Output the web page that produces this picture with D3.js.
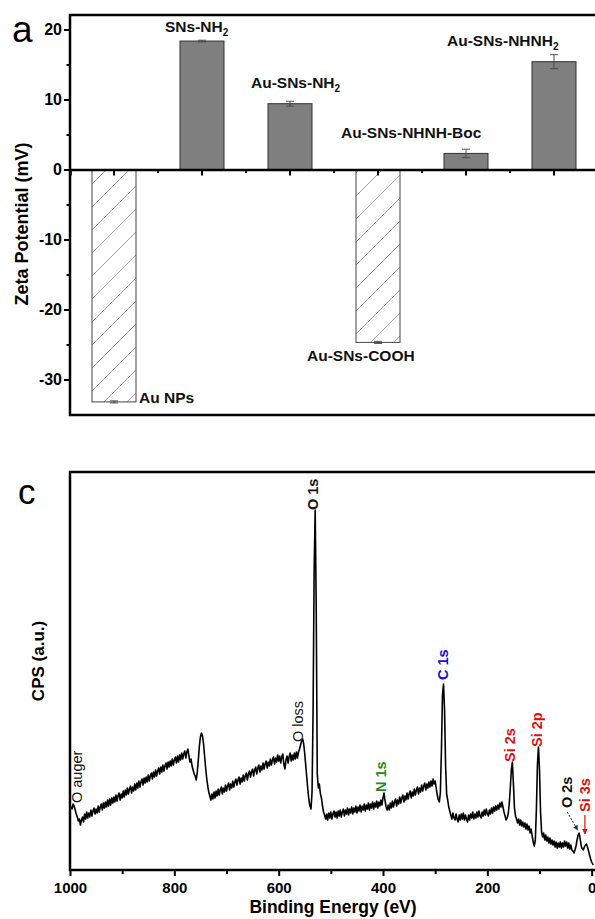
<!DOCTYPE html>
<html>
<head>
<meta charset="utf-8">
<script src="https://cdn.jsdelivr.net/npm/d3@7"></script>
<style>
  body { margin: 0; background: #fff; }
  svg { display: block; font-family: "Liberation Sans", Arial, sans-serif; }
</style>
</head>
<body>
<svg id="fig" width="595" height="919"></svg>
<script>
// ---- panel a: zeta potential ----
var samples = ['Au NPs', 'SNs-NH2', 'Au-SNs-NH2', 'Au-SNs-COOH', 'Au-SNs-NHNH-Boc', 'Au-SNs-NHNH2'];
var zeta = [-33.2, 18.35, 9.4, -24.7, 2.3, 15.4];
var zetaErr = [0.15, 0.12, 0.35, 0.15, 0.6, 1.0];
var zetaTicks = [20, 10, 0, -10, -20, -30];
var zetaMinor = [15, 5, -5, -15, -25];

// ---- panel c: XPS survey ----
var energyTicks = [1000, 800, 600, 400, 200, 0];
var energyMinor = [900, 700, 500, 300, 100];
// [binding energy (eV), counts (a.u.)]
var spectrum = [
  [1000, 60], [998, 63], [996, 61], [994, 66], [992, 64], [990, 60], [988, 56], [986, 53], [984, 49],
  [982, 51], [980, 45], [978, 50], [976, 53], [974, 48], [972, 56], [970, 51], [968, 58], [966, 52],
  [964, 57], [962, 53], [960, 60], [958, 54], [956, 59], [954, 62], [952, 56], [950, 61], [948, 57],
  [946, 64], [944, 58], [942, 63], [940, 66], [938, 60], [936, 67], [934, 62], [932, 68], [930, 63],
  [928, 70], [926, 64], [924, 71], [922, 65], [920, 72], [918, 67], [916, 73], [914, 68], [912, 75],
  [910, 69], [908, 74], [906, 77], [904, 70], [902, 76], [900, 72], [898, 79], [896, 73], [894, 80],
  [892, 75], [890, 82], [888, 76], [886, 81], [884, 84], [882, 77], [880, 83], [878, 79], [876, 86],
  [874, 80], [872, 87], [870, 82], [868, 89], [866, 83], [864, 88], [862, 91], [860, 85], [858, 92],
  [856, 87], [854, 93], [852, 88], [850, 95], [848, 89], [846, 94], [844, 97], [842, 91], [840, 98],
  [838, 93], [836, 100], [834, 94], [832, 99], [830, 102], [828, 96], [826, 103], [824, 98], [822, 105],
  [820, 99], [818, 104], [816, 107], [814, 101], [812, 108], [810, 103], [808, 109], [806, 104],
  [804, 111], [802, 105], [800, 110], [798, 113], [796, 107], [794, 114], [792, 108], [790, 115],
  [788, 110], [786, 117], [784, 111], [782, 116], [780, 119], [778, 112], [776, 118], [774, 121],
  [772, 114], [770, 108], [768, 111], [766, 104], [764, 100], [762, 96], [760, 94], [758, 90],
  [756, 98], [754, 110], [752, 124], [750, 133], [748, 137], [746, 134], [744, 126], [742, 114],
  [740, 102], [738, 92], [736, 84], [734, 78], [732, 74], [730, 70], [728, 76], [726, 71], [724, 78],
  [722, 72], [720, 79], [718, 74], [716, 81], [714, 75], [712, 80], [710, 83], [708, 76], [706, 82],
  [704, 78], [702, 85], [700, 79], [698, 84], [696, 87], [694, 80], [692, 86], [690, 82], [688, 89],
  [686, 83], [684, 88], [682, 91], [680, 85], [678, 90], [676, 93], [674, 86], [672, 92], [670, 88],
  [668, 95], [666, 89], [664, 94], [662, 97], [660, 90], [658, 96], [656, 99], [654, 93], [652, 98],
  [650, 101], [648, 94], [646, 100], [644, 103], [642, 96], [640, 102], [638, 105], [636, 98],
  [634, 104], [632, 100], [630, 107], [628, 101], [626, 106], [624, 109], [622, 102], [620, 108],
  [618, 104], [616, 111], [614, 105], [612, 110], [610, 113], [608, 106], [606, 112], [604, 108],
  [602, 115], [600, 109], [598, 114], [596, 107], [594, 113], [592, 116], [590, 106], [588, 101],
  [586, 110], [584, 114], [582, 107], [580, 113], [578, 117], [576, 109], [574, 115], [572, 110],
  [570, 117], [568, 111], [566, 118], [564, 112], [562, 118], [560, 121], [558, 125], [556, 129],
  [554, 131], [552, 126], [550, 116], [548, 104], [546, 92], [544, 80], [542, 70], [540, 64],
  [538, 61], [536, 78], [534, 160], [532, 300], [530, 360], [528, 262], [526, 96], [524, 82],
  [522, 86], [520, 76], [518, 72], [516, 64], [514, 58], [512, 55], [510, 51], [508, 56], [506, 50],
  [504, 57], [502, 52], [500, 58], [498, 51], [496, 56], [494, 59], [492, 53], [490, 58], [488, 52],
  [486, 59], [484, 54], [482, 60], [480, 53], [478, 58], [476, 61], [474, 54], [472, 60], [470, 56],
  [468, 62], [466, 55], [464, 61], [462, 57], [460, 63], [458, 56], [456, 62], [454, 58], [452, 64],
  [450, 57], [448, 63], [446, 59], [444, 65], [442, 58], [440, 64], [438, 60], [436, 66], [434, 59],
  [432, 65], [430, 61], [428, 67], [426, 60], [424, 66], [422, 62], [420, 68], [418, 61], [416, 67],
  [414, 63], [412, 69], [410, 62], [408, 68], [406, 64], [404, 70], [402, 65], [400, 72], [398, 77],
  [396, 69], [394, 63], [392, 60], [390, 65], [388, 60], [386, 67], [384, 62], [382, 69], [380, 63],
  [378, 68], [376, 71], [374, 64], [372, 70], [370, 66], [368, 73], [366, 67], [364, 72], [362, 75],
  [360, 68], [358, 74], [356, 70], [354, 77], [352, 71], [350, 76], [348, 79], [346, 72], [344, 78],
  [342, 74], [340, 81], [338, 75], [336, 80], [334, 83], [332, 76], [330, 82], [328, 78], [326, 85],
  [324, 79], [322, 84], [320, 87], [318, 80], [316, 86], [314, 82], [312, 88], [310, 83], [308, 89],
  [306, 84], [304, 91], [302, 86], [300, 89], [298, 82], [296, 75], [294, 70], [292, 68], [290, 78],
  [288, 120], [286, 175], [284, 186], [282, 160], [280, 104], [278, 76], [276, 70], [274, 63],
  [272, 59], [270, 55], [268, 51], [266, 57], [264, 52], [262, 50], [260, 56], [258, 51], [256, 48],
  [254, 55], [252, 50], [250, 56], [248, 51], [246, 57], [244, 50], [242, 55], [240, 51], [238, 48],
  [236, 55], [234, 50], [232, 56], [230, 52], [228, 58], [226, 51], [224, 56], [222, 52], [220, 58],
  [218, 53], [216, 59], [214, 54], [212, 52], [210, 58], [208, 54], [206, 60], [204, 55], [202, 61],
  [200, 56], [198, 54], [196, 60], [194, 56], [192, 62], [190, 57], [188, 63], [186, 59], [184, 64],
  [182, 60], [180, 65], [178, 61], [176, 67], [174, 63], [172, 68], [170, 63], [168, 58], [166, 54],
  [164, 50], [162, 52], [160, 56], [158, 66], [156, 82], [154, 100], [152, 108], [150, 86], [148, 62],
  [146, 54], [144, 51], [142, 47], [140, 51], [138, 45], [136, 50], [134, 44], [132, 48], [130, 43],
  [128, 47], [126, 41], [124, 46], [122, 40], [120, 44], [118, 37], [116, 41], [114, 34], [112, 28],
  [110, 24], [108, 30], [106, 60], [104, 105], [102, 123], [100, 100], [98, 58], [96, 38], [94, 33],
  [92, 37], [90, 30], [88, 35], [86, 29], [84, 33], [82, 27], [80, 32], [78, 26], [76, 30], [74, 25],
  [72, 29], [70, 23], [68, 28], [66, 22], [64, 27], [62, 23], [60, 28], [58, 22], [56, 27], [54, 23],
  [52, 29], [50, 24], [48, 28], [46, 22], [44, 27], [42, 21], [40, 25], [38, 20], [36, 19], [34, 17],
  [32, 20], [30, 24], [28, 30], [26, 35], [24, 37], [22, 31], [20, 24], [18, 21], [16, 20], [14, 23],
  [12, 25], [10, 26], [8, 23], [6, 19], [4, 15], [2, 11], [0, 8], [-3, 5]
];
var peakNames = ['O auger', 'O loss', 'O 1s', 'N 1s', 'C 1s', 'Si 2s', 'Si 2p', 'O 2s', 'Si 3s'];
var peakEnergy = [987, 563, 534, 404, 286, 157, 105, 47, 13];
var peakColor = ['#111', '#111', '#111', '#1f8a1f', '#1010e0', '#e01010', '#e01010', '#111', '#e01010'];
var peakBold = [false, false, true, true, true, true, true, true, true];
// label foot level (counts) where each rotated label starts
var peakFoot = [67, 128, 360, 78, 190, 108, 123, 62, 58];

var svg = d3.select('#fig');
var FONT = '"Liberation Sans", Arial, sans-serif';
var plain = d => String(d);

// ================= panel a =================
var a = { left: 70, right: 598, top: 15, bottom: 415 };

var x = d3.scaleBand()
  .domain(samples)
  .range([a.left, a.right])
  .paddingInner(0.5)
  .paddingOuter(0.25);

var y = d3.scaleLinear()
  .domain([-35.07, 22.07])
  .range([a.bottom, a.top]);

var defs = svg.append('defs');
var hs = 23;
defs.append('pattern')
  .attr('id', 'hatch')
  .attr('patternUnits', 'userSpaceOnUse')
  .attr('width', hs).attr('height', hs)
  .append('path')
  .attr('d', `M0,${hs} L${hs},0 M${-hs/4},${hs/4} L${hs/4},${-hs/4} M${3*hs/4},${5*hs/4} L${5*hs/4},${3*hs/4}`)
  .attr('stroke', '#888')
  .attr('stroke-width', 0.8);

var ga = svg.append('g').attr('class', 'panel-a');

ga.selectAll('rect.bar')
  .data(samples)
  .enter().append('rect')
  .attr('class', 'bar')
  .attr('x', d => x(d))
  .attr('width', x.bandwidth())
  .attr('y', (d, i) => y(Math.max(0, zeta[i])))
  .attr('height', (d, i) => Math.abs(y(zeta[i]) - y(0)))
  .attr('fill', (d, i) => zeta[i] < 0 ? 'url(#hatch)' : '#7f7f7f')
  .attr('stroke', (d, i) => zeta[i] < 0 ? '#444' : '#333')
  .attr('stroke-width', 1);

// error bars
var eb = ga.selectAll('g.err')
  .data(samples)
  .enter().append('g')
  .attr('class', 'err')
  .attr('stroke', '#444')
  .attr('stroke-width', 0.9);

eb.append('line')
  .attr('x1', d => x(d) + x.bandwidth() / 2)
  .attr('x2', d => x(d) + x.bandwidth() / 2)
  .attr('y1', (d, i) => y(zeta[i] - zetaErr[i]))
  .attr('y2', (d, i) => y(zeta[i] + zetaErr[i]));
[-1, 1].forEach(s => {
  eb.append('line')
    .attr('x1', d => x(d) + x.bandwidth() / 2 - 4)
    .attr('x2', d => x(d) + x.bandwidth() / 2 + 4)
    .attr('y1', (d, i) => y(zeta[i] + s * zetaErr[i]))
    .attr('y2', (d, i) => y(zeta[i] + s * zetaErr[i]));
});

// frame
ga.append('rect')
  .attr('x', a.left).attr('y', a.top)
  .attr('width', a.right - a.left).attr('height', a.bottom - a.top)
  .attr('fill', 'none').attr('stroke', '#000').attr('stroke-width', 2.5);

// y axis
ga.append('g')
  .attr('class', 'axis y-axis')
  .attr('transform', `translate(${a.left},0)`)
  .call(d3.axisLeft(y).tickValues(zetaTicks).tickSize(6).tickPadding(2).tickFormat(plain));
ga.append('g')
  .attr('class', 'axis y-minor')
  .attr('transform', `translate(${a.left},0)`)
  .call(d3.axisLeft(y).tickValues(zetaMinor).tickSize(3.5).tickFormat(''));

// zero axis with category ticks
ga.append('g')
  .attr('class', 'axis x-axis')
  .attr('transform', `translate(0,${y(0)})`)
  .call(d3.axisBottom(x).tickSize(6).tickFormat(''));
ga.append('g')
  .attr('class', 'axis x-minor')
  .selectAll('line')
  .data(samples.slice(1))
  .enter().append('line')
  .attr('x1', d => x(d) - x.step() / 4)
  .attr('x2', d => x(d) - x.step() / 4)
  .attr('y1', y(0))
  .attr('y2', y(0) + 3.5)
  .attr('stroke', '#000')
  .attr('stroke-width', 2);

ga.selectAll('.y-axis path.domain, .y-minor path.domain').remove();
ga.selectAll('.x-axis path.domain').attr('stroke-width', 2.5);
ga.selectAll('.axis .tick line').attr('stroke-width', 2);
ga.selectAll('.y-axis .tick text')
  .attr('font-family', FONT)
  .attr('font-size', 16)
  .attr('font-weight', 'bold')
  .attr('fill', '#000');

// bar labels: offset from bar centre (px) and from bar end (px)
var barLabelLayout = {
  'Au NPs':          { dx: 25,   dy: 1 },
  'SNs-NH2':         { dx: -37,  dy: -9 },
  'Au-SNs-NH2':      { dx: -39,  dy: -16 },
  'Au-SNs-COOH':     { dx: -71,  dy: 19 },
  'Au-SNs-NHNH-Boc': { dx: -125, dy: -15 },
  'Au-SNs-NHNH2':    { dx: -107, dy: -16 }
};

samples.forEach((s, i) => {
  var L = barLabelLayout[s];
  var t = ga.append('text')
    .attr('x', x(s) + x.bandwidth() / 2 + L.dx)
    .attr('y', y(zeta[i]) + L.dy)
    .attr('font-family', FONT)
    .attr('font-size', 15.5)
    .attr('font-weight', 'bold')
    .attr('fill', '#111');
  if (/NH2$/.test(s)) {
    t.append('tspan').text(s.slice(0, -1));
    t.append('tspan').attr('font-size', 10).attr('dy', 4).text('2');
  } else {
    t.text(s);
  }
});

svg.append('text')
  .attr('x', 12).attr('y', 42)
  .attr('font-family', FONT)
  .attr('font-size', 37)
  .text('a');

svg.append('text')
  .attr('transform', `translate(28,${(a.top + a.bottom) / 2 + 9}) rotate(-90)`)
  .attr('text-anchor', 'middle')
  .attr('font-family', FONT)
  .attr('font-size', 18)
  .attr('font-weight', 'bold')
  .text('Zeta Potential (mV)');

// ================= panel c =================
var c = { left: 70, right: 597, top: 472, bottom: 870 };

var xe = d3.scaleLinear()
  .domain([1000, -6])
  .range([c.left, 594.8]);

var yc = d3.scaleLinear()
  .domain([0, 398])
  .range([c.bottom, c.top]);

var gc = svg.append('g').attr('class', 'panel-c');

gc.append('path')
  .datum(spectrum)
  .attr('fill', 'none')
  .attr('stroke', '#000')
  .attr('stroke-width', 1.6)
  .attr('stroke-linejoin', 'round')
  .attr('d', d3.line().x(d => xe(d[0])).y(d => yc(d[1])));

gc.append('rect')
  .attr('x', c.left).attr('y', c.top)
  .attr('width', c.right - c.left).attr('height', c.bottom - c.top)
  .attr('fill', 'none').attr('stroke', '#000').attr('stroke-width', 2.5);

gc.append('g')
  .attr('class', 'axis x-axis')
  .attr('transform', `translate(0,${c.bottom})`)
  .call(d3.axisBottom(xe).tickValues(energyTicks).tickSize(6).tickPadding(6).tickFormat(plain));
gc.append('g')
  .attr('class', 'axis x-minor')
  .attr('transform', `translate(0,${c.bottom})`)
  .call(d3.axisBottom(xe).tickValues(energyMinor).tickSize(4).tickFormat(''));
gc.selectAll('.axis path.domain').remove();
gc.selectAll('.axis .tick line').attr('stroke-width', 2);
gc.selectAll('.x-axis .tick text')
  .attr('font-family', FONT)
  .attr('font-size', 15)
  .attr('font-weight', 'bold')
  .attr('fill', '#000');

// peak labels, rotated
peakNames.forEach((p, i) => {
  gc.append('text')
    .attr('transform', `translate(${xe(peakEnergy[i])},${yc(peakFoot[i])}) rotate(-90)`)
    .attr('dy', '0.36em')
    .attr('font-family', FONT)
    .attr('font-size', 14.5)
    .attr('font-weight', peakBold[i] ? 'bold' : 'normal')
    .attr('fill', peakColor[i])
    .text(p);
});

// arrows to O 2s and Si 3s
defs.append('marker')
  .attr('id', 'arrK').attr('viewBox', '0 0 10 10')
  .attr('refX', 9).attr('refY', 5)
  .attr('markerWidth', 5).attr('markerHeight', 5)
  .attr('orient', 'auto')
  .append('path').attr('d', 'M0,0 L10,5 L0,10 z').attr('fill', '#223');
defs.append('marker')
  .attr('id', 'arrR').attr('viewBox', '0 0 10 10')
  .attr('refX', 9).attr('refY', 5)
  .attr('markerWidth', 5).attr('markerHeight', 5)
  .attr('orient', 'auto')
  .append('path').attr('d', 'M0,0 L10,5 L0,10 z').attr('fill', '#e01010');

gc.append('line')
  .attr('x1', xe(peakEnergy[7])).attr('y1', yc(peakFoot[7]) + 4)
  .attr('x2', xe(27)).attr('y2', yc(40))
  .attr('stroke', '#223').attr('stroke-width', 1)
  .attr('stroke-dasharray', '2,1.5')
  .attr('marker-end', 'url(#arrK)');
gc.append('line')
  .attr('x1', xe(peakEnergy[8])).attr('y1', yc(peakFoot[8]) + 3)
  .attr('x2', xe(peakEnergy[8])).attr('y2', yc(36))
  .attr('stroke', '#e01010').attr('stroke-width', 1.2)
  .attr('marker-end', 'url(#arrR)');

svg.append('text')
  .attr('x', 18).attr('y', 504)
  .attr('font-family', FONT)
  .attr('font-size', 35)
  .text('c');

svg.append('text')
  .attr('transform', `translate(44,661) rotate(-90)`)
  .attr('text-anchor', 'middle')
  .attr('font-family', FONT)
  .attr('font-size', 17)
  .attr('font-weight', 'bold')
  .text('CPS (a.u.)');

svg.append('text')
  .attr('x', 333).attr('y', 913)
  .attr('text-anchor', 'middle')
  .attr('font-family', FONT)
  .attr('font-size', 17.5)
  .attr('font-weight', 'bold')
  .text('Binding Energy (eV)');
</script>
</body>
</html>
